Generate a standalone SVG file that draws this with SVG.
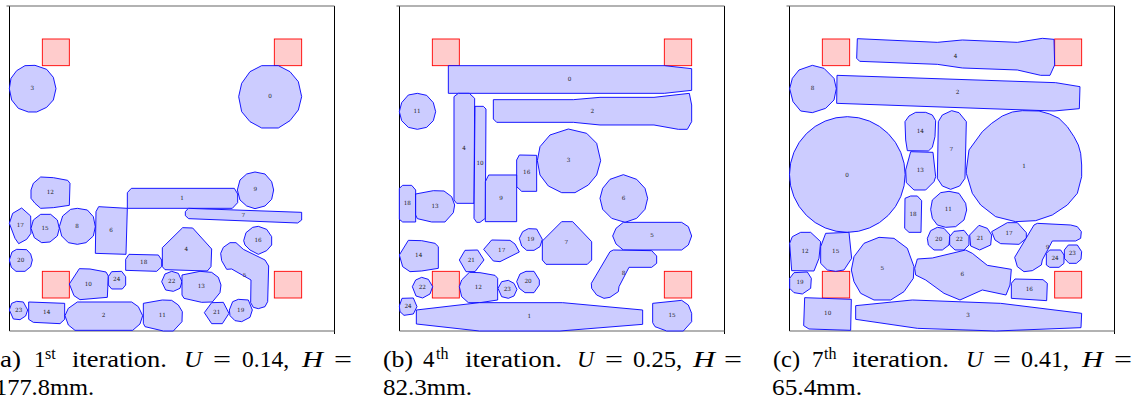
<svg xmlns="http://www.w3.org/2000/svg" width="1139" height="402" viewBox="0 0 1139 402">
<style>
.p{fill:#ccccff;stroke:#0000ff;stroke-width:2.7;stroke-linejoin:round}
.r{fill:#ffcccc;stroke:#ff0000;stroke-width:2.7}
.l{font-family:"DejaVu Serif","Liberation Serif",serif;font-size:17px;fill:#222;text-anchor:middle}
.t{font-family:"Liberation Serif",serif;font-size:23px;fill:#000}
.i{font-style:italic}
.s{font-size:16px}
.f{fill:none;stroke:#000;stroke-width:1}
.g{fill:none;stroke:#666;stroke-width:1.2}
</style>
<rect width="1139" height="402" fill="#fff"/>

<g id="panel-a">
<path class="f" d="M9.5 6V331M334.5 6V334"/><path class="g" d="M6.5 6H334.5M9.5 331H334.5"/>
<g transform="scale(.33333)">
<rect class="r" x="127" y="117" width="81" height="80"/><rect class="r" x="823" y="117" width="82" height="80"/>
<polygon class="p" points="28,266 33,235 50,212 75,197 105,196 140,208 160,232 168,266 160,300 140,322 110,336 85,336 55,325 35,300"/><text class="l" x="97" y="271">3</text>
<polygon class="p" points="716,290 725,250 750,215 785,197 835,197 870,215 895,245 905,290 895,330 870,362 835,384 785,384 750,365 725,335"/><text class="l" x="810" y="295">0</text>
</g>
<g transform="translate(0,170) scale(.33333)">
<rect class="r" x="127" y="304" width="81" height="80"/><rect class="r" x="823" y="304" width="82" height="80"/>
<polygon class="p" points="93,60 100,40 122,21 160,23 203,31 210,40 208,106 160,113 122,115 105,100 93,85"/><text class="l" x="151" y="73">12</text>
<polygon class="p" points="382,68 394,55 703,55 713,72 713,98 697,115 382,115"/><text class="l" x="546" y="91">1</text>
<polygon class="p" points="712,60 720,30 740,12 765,6 795,12 815,35 821,60 815,88 795,108 765,116 740,108 720,90"/><text class="l" x="766" y="64">9</text>
<polygon class="p" points="556,125 565,115 905,127 905,150 893,159 566,146 556,137"/><text class="l" x="730" y="142">7</text>
<polygon class="p" points="28,160 38,130 65,114 92,138 93,190 80,208 56,221 45,205"/><text class="l" x="61" y="172">17</text>
<polygon class="p" points="93,175 100,150 122,133 152,133 172,150 178,175 172,198 150,216 125,218 103,203"/><text class="l" x="135" y="181">15</text>
<polygon class="p" points="178,170 188,138 212,118 232,115 262,120 280,140 286,170 280,198 258,218 232,223 205,218 185,198"/><text class="l" x="231" y="175">8</text>
<polygon class="p" points="296,110 382,115 378,253 286,250 288,125"/><text class="l" x="333" y="187">6</text>
<polygon class="p" points="28,270 36,246 50,238 80,239 92,252 97,270 92,290 75,304 48,304 34,292"/><text class="l" x="62" y="277">20</text>
<polygon class="p" points="731,212 738,188 758,172 775,169 800,178 815,200 815,225 800,242 775,253 750,240 735,225"/><text class="l" x="774" y="217">16</text>
<polygon class="p" points="487,233 548,173 578,174 635,237 633,290 622,303 495,299 487,290"/><text class="l" x="559" y="244">4</text>
<polygon class="p" points="377,268 387,253 475,255 485,270 485,290 470,304 377,301"/><text class="l" x="431" y="283">18</text>
<polygon class="p" points="662,250 670,232 690,218 708,218 730,238 795,270 806,288 803,395 795,410 775,416 760,412 752,398 753,330 695,297 680,298 665,272"/><text class="l" x="734" y="321">5</text>
<polygon class="p" points="208,342 238,296 270,297 318,306 325,318 322,382 240,389 222,377"/><text class="l" x="265" y="349">10</text>
<polygon class="p" points="325,320 335,305 365,304 377,320 377,345 367,357 335,357 325,345"/><text class="l" x="350" y="334">24</text>
<polygon class="p" points="485,335 495,312 515,304 535,310 546,335 540,355 520,364 497,360"/><text class="l" x="515" y="340">22</text>
<polygon class="p" points="546,315 600,304 635,307 655,322 663,345 660,368 637,396 605,397 552,385 546,375"/><text class="l" x="604" y="354">13</text>
<polygon class="p" points="28,420 35,400 50,394 70,396 83,420 77,438 60,449 40,447"/><text class="l" x="56" y="427">23</text>
<polygon class="p" points="86,396 194,400 194,448 180,461 100,457 86,448"/><text class="l" x="140" y="433">14</text>
<polygon class="p" points="195,437 205,415 232,396 395,396 415,410 428,437 420,462 398,481 225,481 205,465"/><text class="l" x="311" y="442">2</text>
<polygon class="p" points="430,400 487,390 515,391 535,405 547,425 546,455 520,483 490,483 435,470 430,460"/><text class="l" x="487" y="442">11</text>
<polygon class="p" points="613,428 635,398 670,397 687,430 667,461 635,461"/><text class="l" x="650" y="433">21</text>
<polygon class="p" points="688,420 698,395 715,388 745,390 757,420 750,442 725,455 705,452 690,437"/><text class="l" x="722" y="427">19</text>
</g>
<text class="t" x="-9" y="366.5" textLength="30" lengthAdjust="spacingAndGlyphs">(a)</text><text class="t" x="34" y="366.5">1</text><text class="t s" x="45" y="359">st</text><text class="t" x="72" y="366.5" textLength="95" lengthAdjust="spacingAndGlyphs">iteration.</text><text class="t i" x="184" y="366.5" textLength="18" lengthAdjust="spacingAndGlyphs">U</text><text class="t" x="213" y="366.5" textLength="18" lengthAdjust="spacingAndGlyphs">=</text><text class="t" x="242" y="366.5" textLength="47" lengthAdjust="spacingAndGlyphs">0.14,</text><text class="t i" x="302" y="366.5" textLength="21" lengthAdjust="spacingAndGlyphs">H</text><text class="t" x="334" y="366.5" textLength="18" lengthAdjust="spacingAndGlyphs">=</text>
<text class="t" x="-5" y="395" textLength="99" lengthAdjust="spacingAndGlyphs">177.8mm.</text>
</g>

<g id="panel-b">
<path class="f" d="M399.5 6V331M724.5 6V334"/><path class="g" d="M396.5 6H724.5M399.5 331H724.5"/>
<g transform="translate(380,0) scale(.33333)">
<rect class="r" x="157" y="117" width="81" height="80"/><rect class="r" x="853" y="117" width="82" height="80"/>
<polygon class="p" points="205,197 853,197 935,206 935,271 853,280 205,280"/><text class="l" x="569" y="244">0</text>
<polygon class="p" points="340,299 580,299 660,292 822,292 928,280 935,315 935,365 922,388 895,388 822,375 660,375 580,367 350,367 340,357"/><text class="l" x="637" y="340">2</text>
<polygon class="p" points="58,335 65,308 85,285 112,280 140,286 160,308 167,335 160,362 140,382 112,388 85,382 65,362"/><text class="l" x="111" y="340">11</text>
<polygon class="p" points="472,482 480,440 510,405 565,387 620,400 650,430 662,482 650,525 625,555 585,578 545,578 505,558 480,525"/><text class="l" x="566" y="487">3</text>
<polygon class="p" points="222,290 235,280 268,280 284,295 282,610 230,610 222,600"/><text class="l" x="252" y="451">4</text>
<polygon class="p" points="285,319 310,319 318,327 316,655 300,667 290,667 282,655"/><text class="l" x="300" y="496">10</text>
<polygon class="p" points="410,480 418,465 470,466 470,574 425,574 410,560"/><text class="l" x="440" y="523">16</text>
<polygon class="p" points="316,545 326,525 410,525 410,665 316,665"/><text class="l" x="363" y="600">9</text>
</g>
<g transform="translate(380,170) scale(.33333)">
<rect class="r" x="157" y="304" width="81" height="80"/><rect class="r" x="853" y="304" width="82" height="80"/>
<polygon class="p" points="660,85 668,55 690,28 730,14 770,28 795,55 803,85 795,118 770,145 735,157 695,145 668,118"/><text class="l" x="731" y="91">6</text>
<polygon class="p" points="58,55 68,46 95,46 107,60 107,156 68,156 58,148"/><text class="l" x="82" y="106">18</text>
<polygon class="p" points="107,72 160,62 192,63 215,80 224,105 220,128 195,156 155,156 112,146 107,135"/><text class="l" x="165" y="115">13</text>
<polygon class="p" points="698,198 708,175 730,157 905,157 925,170 935,198 925,225 905,240 730,240 708,222"/><text class="l" x="816" y="202">5</text>
<polygon class="p" points="487,213 545,155 578,155 635,215 635,270 622,283 498,283 487,270"/><text class="l" x="559" y="223">7</text>
<polygon class="p" points="418,205 428,185 445,176 470,177 487,208 480,230 462,241 440,241 425,228"/><text class="l" x="452" y="214">19</text>
<polygon class="p" points="311,238 335,210 390,211 405,222 418,246 360,275 340,273"/><text class="l" x="365" y="247">17</text>
<polygon class="p" points="58,255 85,211 125,212 165,220 175,230 175,295 125,303 90,305 68,290"/><text class="l" x="116" y="262">14</text>
<polygon class="p" points="238,270 255,241 293,240 312,270 285,305 258,305"/><text class="l" x="274" y="277">21</text>
<polygon class="p" points="634,340 690,245 700,240 815,242 830,258 830,280 815,292 747,292 717,350 715,365 690,382 672,385 650,375 635,355"/><text class="l" x="731" y="316">8</text>
<polygon class="p" points="97,350 107,330 125,322 145,328 158,350 150,372 128,384 108,378"/><text class="l" x="127" y="358">22</text>
<polygon class="p" points="238,350 245,330 268,307 300,308 345,316 353,325 353,390 300,398 265,398 245,380"/><text class="l" x="295" y="358">12</text>
<polygon class="p" points="354,355 365,335 385,331 402,340 411,358 402,378 385,385 365,380"/><text class="l" x="382" y="364">23</text>
<polygon class="p" points="410,335 420,312 438,304 462,304 478,330 478,345 462,368 435,368 418,355"/><text class="l" x="444" y="340">20</text>
<polygon class="p" points="58,408 66,385 100,384 111,410 100,432 72,436 60,425"/><text class="l" x="84" y="415">24</text>
<polygon class="p" points="109,420 298,398 548,398 788,420 788,463 540,483 298,483 109,462"/><text class="l" x="448" y="444">1</text>
<polygon class="p" points="818,400 905,391 925,405 935,430 935,455 910,483 860,483 825,470 818,458"/><text class="l" x="876" y="442">15</text>
</g>
<text class="t" x="383" y="366.5" textLength="30" lengthAdjust="spacingAndGlyphs">(b)</text><text class="t" x="423" y="366.5">4</text><text class="t s" x="436" y="359">th</text><text class="t" x="465" y="366.5" textLength="97" lengthAdjust="spacingAndGlyphs">iteration.</text><text class="t i" x="577" y="366.5" textLength="17" lengthAdjust="spacingAndGlyphs">U</text><text class="t" x="605" y="366.5" textLength="18" lengthAdjust="spacingAndGlyphs">=</text><text class="t" x="633" y="366.5" textLength="49" lengthAdjust="spacingAndGlyphs">0.25,</text><text class="t i" x="693" y="366.5" textLength="22" lengthAdjust="spacingAndGlyphs">H</text><text class="t" x="724" y="366.5" textLength="18" lengthAdjust="spacingAndGlyphs">=</text>
<text class="t" x="383" y="395" textLength="89" lengthAdjust="spacingAndGlyphs">82.3mm.</text>
</g>

<g id="panel-c">
<path class="f" d="M789.5 6V331M1114.5 6V334"/><path class="g" d="M786.5 6H1114.5M789.5 331H1114.5"/>
<g transform="translate(769,0) scale(.33333)">
<rect class="r" x="160" y="117" width="82" height="80"/><rect class="r" x="857" y="117" width="81" height="80"/>
<polygon class="p" points="265,116 505,127 580,120 745,127 820,115 855,118 857,195 843,226 815,226 745,210 580,204 505,193 272,184 263,175"/><text class="l" x="560" y="175">4</text>
<polygon class="p" points="204,226 860,248 933,260 931,326 855,333 203,310"/><text class="l" x="566" y="283">2</text>
<polygon class="p" points="62,266 70,235 90,210 130,196 165,205 195,235 202,266 195,300 170,325 130,338 95,333 72,305"/><text class="l" x="131" y="271">8</text>
<circle class="p" cx="235" cy="523.5" r="173.5"/><text class="l" x="234" y="530">0</text>
<polygon class="p" points="408,365 420,348 440,337 470,337 490,345 500,362 498,410 490,442 478,453 415,452 410,420"/><text class="l" x="454" y="400">14</text>
<polygon class="p" points="410,510 425,455 492,457 500,530 495,545 470,570 435,570 412,548"/><text class="l" x="454" y="516">13</text>
<polygon class="p" points="508,365 520,345 548,332 570,338 592,365 588,535 572,558 545,568 520,558 505,535"/><text class="l" x="547" y="454">7</text>
<polygon class="p" points="592,510 600,450 640,395 668,370 700,348 730,336 760,332 810,333 842,342 870,355 895,380 915,410 928,435 935,460 938,495 938,530 925,580 895,615 850,645 800,662 740,665 680,650 635,615 610,580 592,520"/><text class="l" x="765" y="505">1</text>
</g>
<g transform="translate(769,170) scale(.33333)">
<rect class="r" x="160" y="304" width="82" height="80"/><rect class="r" x="857" y="304" width="81" height="80"/>
<polygon class="p" points="408,85 425,78 445,78 458,92 456,187 420,187 407,175"/><text class="l" x="432" y="139">18</text>
<polygon class="p" points="485,118 490,90 515,68 540,64 570,70 590,100 593,120 585,150 560,170 530,172 505,165 490,145"/><text class="l" x="538" y="124">11</text>
<polygon class="p" points="475,205 485,182 505,172 525,175 543,195 540,225 520,240 495,240 478,225"/><text class="l" x="509" y="212">20</text>
<polygon class="p" points="542,200 555,184 585,181 600,200 600,225 585,240 558,240 542,225"/><text class="l" x="571" y="214">22</text>
<polygon class="p" points="602,195 630,166 655,175 668,195 665,225 632,240 605,228"/><text class="l" x="633" y="209">21</text>
<polygon class="p" points="668,185 715,158 745,158 772,188 772,205 750,223 695,221 678,210"/><text class="l" x="720" y="196">17</text>
<polygon class="p" points="737,262 795,165 805,160 905,165 925,170 937,185 935,205 920,213 850,213 820,270 817,285 790,302 765,305 745,290"/><text class="l" x="836" y="238">9</text>
<polygon class="p" points="886,240 898,225 925,225 938,245 936,268 922,280 900,280 886,265"/><text class="l" x="910" y="256">23</text>
<polygon class="p" points="832,250 842,240 875,240 885,255 885,280 870,292 842,292 832,285"/><text class="l" x="858" y="271">24</text>
<polygon class="p" points="62,220 70,200 95,187 125,187 155,215 150,265 135,303 68,302"/><text class="l" x="108" y="250">12</text>
<polygon class="p" points="155,230 170,190 240,187 248,265 225,300 200,304 175,300 155,280"/><text class="l" x="200" y="250">15</text>
<polygon class="p" points="247,300 255,260 285,220 330,202 375,205 415,235 435,290 433,325 405,365 365,390 315,390 275,370 255,335"/><text class="l" x="340" y="301">5</text>
<polygon class="p" points="62,325 75,308 115,306 127,325 125,355 100,372 75,368 62,355"/><text class="l" x="93" y="343">19</text>
<polygon class="p" points="437,295 445,267 490,264 590,240 610,250 655,286 727,298 723,345 711,375 640,360 573,390 525,370 470,330 440,315"/><text class="l" x="580" y="319">6</text>
<polygon class="p" points="727,340 738,327 822,329 835,340 833,392 727,385"/><text class="l" x="781" y="364">16</text>
<polygon class="p" points="107,383 247,388 245,481 120,477 104,467"/><text class="l" x="176" y="436">10</text>
<polygon class="p" points="260,407 430,390 695,400 938,430 936,473 680,483 445,475 260,448"/><text class="l" x="597" y="442">3</text>
</g>
<text class="t" x="773" y="366.5" textLength="27" lengthAdjust="spacingAndGlyphs">(c)</text><text class="t" x="812" y="366.5">7</text><text class="t s" x="824" y="359">th</text><text class="t" x="852" y="366.5" textLength="97" lengthAdjust="spacingAndGlyphs">iteration.</text><text class="t i" x="966" y="366.5" textLength="17" lengthAdjust="spacingAndGlyphs">U</text><text class="t" x="993" y="366.5" textLength="18" lengthAdjust="spacingAndGlyphs">=</text><text class="t" x="1021" y="366.5" textLength="48" lengthAdjust="spacingAndGlyphs">0.41,</text><text class="t i" x="1082" y="366.5" textLength="21" lengthAdjust="spacingAndGlyphs">H</text><text class="t" x="1114" y="366.5" textLength="18" lengthAdjust="spacingAndGlyphs">=</text>
<text class="t" x="772" y="395" textLength="90" lengthAdjust="spacingAndGlyphs">65.4mm.</text>
</g>
</svg>
